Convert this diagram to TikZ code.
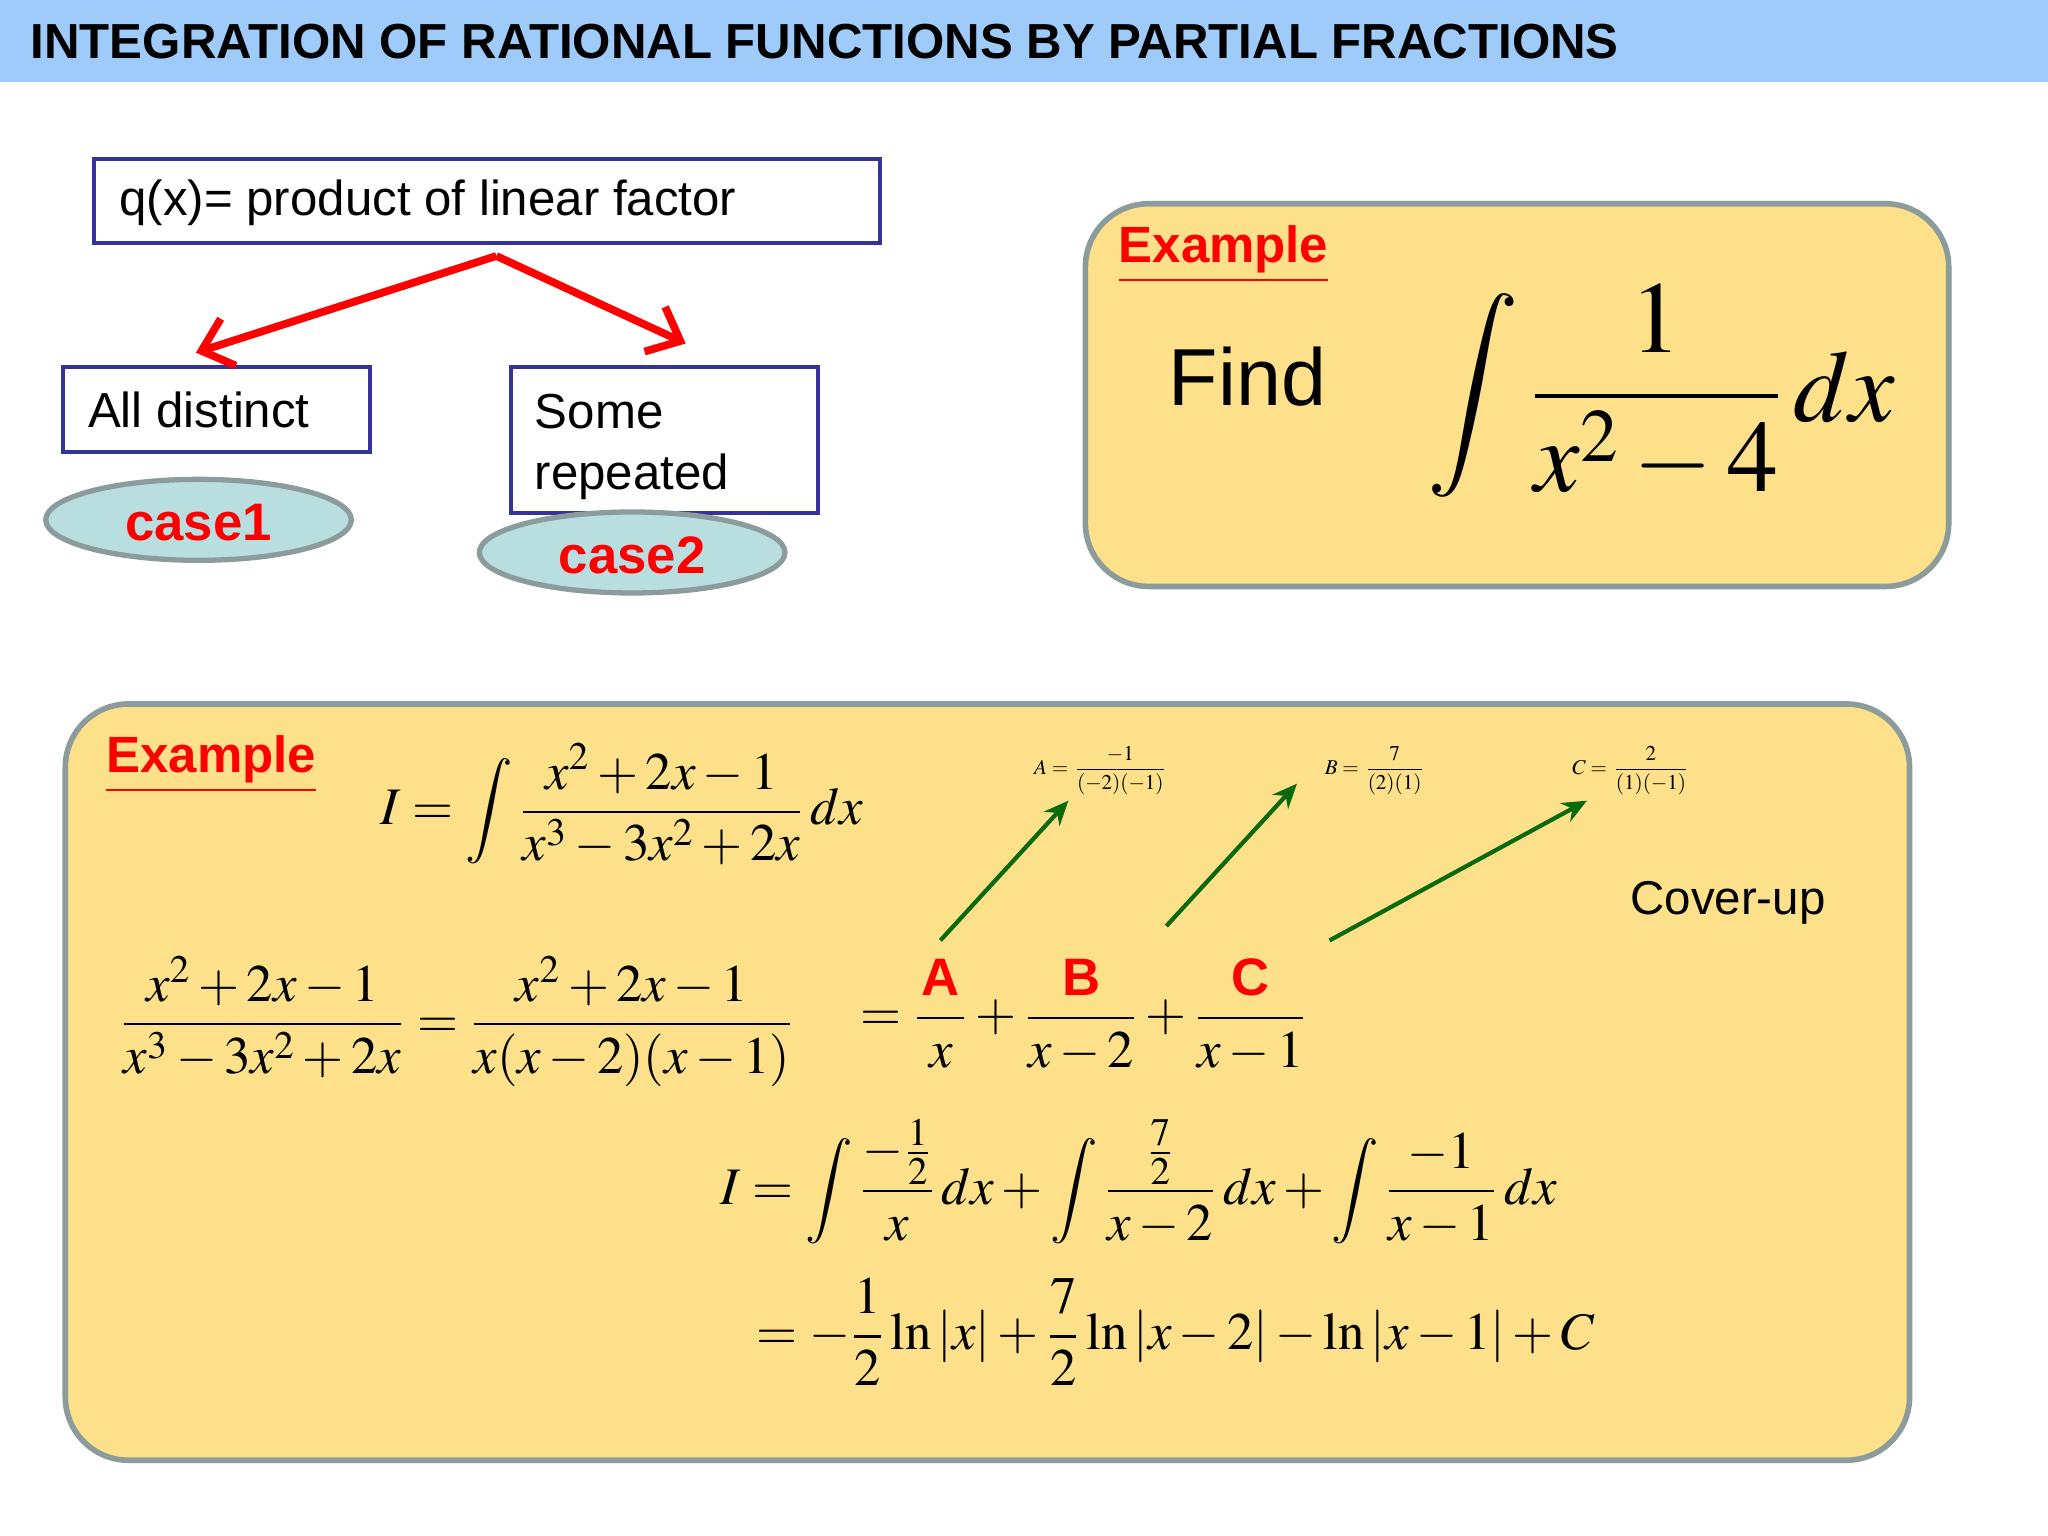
\documentclass[tikz,border=0pt]{standalone}
\usepackage{amsmath}
\usepackage{mathptmx}
\usepackage[no-math]{fontspec}
\setmainfont{Liberation Sans}
\usetikzlibrary{shapes.geometric,arrows.meta}
\definecolor{titlebg}{HTML}{9FCBFA}
\definecolor{boxblue}{HTML}{333399}
\definecolor{panel}{HTML}{FCE08A}
\definecolor{panelborder}{HTML}{8C9C9C}
\definecolor{casefill}{HTML}{B8DEE0}
\definecolor{darkgreen}{HTML}{0A6A0A}
\begin{document}
\begin{tikzpicture}[x=0.01306cm,y=-0.01306cm,
  panelbox/.style={draw=panelborder,fill=panel,line width=1.6pt,rounded corners=18pt},
  redarrow/.style={red,line width=2.2pt,-{Straight Barb[length=8pt,width=14pt]}},
  greenarrow/.style={darkgreen,line width=1.2pt,-{Stealth[length=7pt,width=6pt]}},
  extitle/.style={text=red,font=\fontsize{14.5}{17}\selectfont\bfseries,anchor=west},
  mathtxt/.style={font=\fontsize{15}{18}\selectfont},
  tiny/.style={font=\fontsize{6}{7}\selectfont}]
\useasboundingbox (0,0) rectangle (1568,1176);
\fill[white] (0,0) rectangle (1568,1176);
\fill[titlebg] (0,0) rectangle (1568,63);
\node[anchor=west,font=\fontsize{14}{16}\selectfont\bfseries] (title) at (14,32) {INTEGRATION OF RATIONAL FUNCTIONS BY PARTIAL FRACTIONS};

% left tree
\draw[boxblue,line width=1.2pt] (72,122) rectangle (674,186);
\node[anchor=west,font=\fontsize{14}{17}\selectfont] (qt) at (82,155) {q(x)= product of linear factor};
\draw[boxblue,line width=1.2pt] (48,281) rectangle (283,346);
\node[anchor=west,font=\fontsize{14}{17}\selectfont] (dist) at (58,314) {All distinct};
\draw[boxblue,line width=1.2pt] (391,281) rectangle (626,393);
\node[anchor=north west,align=left,font=\fontsize{14}{17.5}\selectfont] (rep) at (400,292) {Some\\repeated};
\coordinate (split) at (380,196);
\coordinate (lt) at (150,270);
\coordinate (rt) at (525,263);
\draw[redarrow] (split) -- (lt);
\draw[redarrow] (split) -- (rt);
\draw[draw=panelborder,fill=casefill,line width=1.5pt] (152,398) ellipse [x radius=117,y radius=31];
\node[text=red,font=\fontsize{15}{18}\selectfont\bfseries] (c1) at (152,400) {case1};
\draw[draw=panelborder,fill=casefill,line width=1.5pt] (484,423) ellipse [x radius=117,y radius=31];
\node[text=red,font=\fontsize{15}{18}\selectfont\bfseries] (c2) at (484,425) {case2};

% top-right example
\draw[panelbox] (831,156) rectangle (1492,449);
\node[extitle] (ex1) at (847,195) {\underline{Example}};
\node[font=\fontsize{23}{27}\selectfont] (find) at (955,288) {Find};
\node[font=\fontsize{29}{33}\selectfont] (int1) at (1272,300) {$\displaystyle\int\frac{1}{x^2-4}\,dx$};

% bottom example
\draw[panelbox] (50,539) rectangle (1462,1118);
\node[extitle] (ex2) at (72,585) {\underline{Example}};
\node[mathtxt] (l1) at (476,616) {$\displaystyle I=\int\frac{x^2+2x-1}{x^3-3x^2+2x}\,dx$};
\node[mathtxt] (l2) at (350,782) {$\displaystyle \frac{x^2+2x-1}{x^3-3x^2+2x}=\frac{x^2+2x-1}{x(x-2)(x-1)}$};
\node[mathtxt] (l2b) at (830,777) {$\displaystyle =\frac{\textcolor{red}{\textbf{A}}}{\;x\;}+\frac{\textcolor{red}{\textbf{B}}}{x-2}+\frac{\textcolor{red}{\textbf{C}}}{x-1}$};
\node[mathtxt] (l3) at (872,905) {$\displaystyle I=\int\frac{-\frac{1}{2}}{x}\,dx+\int\frac{\frac{7}{2}}{x-2}\,dx+\int\frac{-1}{x-1}\,dx$};
\node[mathtxt] (l4) at (900,1020) {$\displaystyle =-\frac{1}{2}\ln|x|+\frac{7}{2}\ln|x-2|-\ln|x-1|+C$};
\node[tiny] (la) at (843,590) {$A=\dfrac{-1}{(-2)(-1)}$};
\node[tiny] (lb) at (1053,590) {$B=\dfrac{7}{(2)(1)}$};
\node[tiny] (lc) at (1249,590) {$C=\dfrac{2}{(1)(-1)}$};
\node[font=\fontsize{13.5}{16}\selectfont] (cover) at (1323,691) {Cover-up};
\coordinate (ca) at (720,720);
\coordinate (cb) at (893,709);
\coordinate (cc) at (1018,720);
\draw[greenarrow] (ca) -- (818,613);
\draw[greenarrow] (cb) -- (993,600);
\draw[greenarrow] (cc) -- (1215,613);
\end{tikzpicture}
\end{document}
